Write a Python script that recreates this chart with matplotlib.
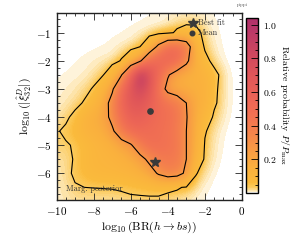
import numpy as np
import matplotlib
matplotlib.use("Agg")
import matplotlib.pyplot as plt
from matplotlib.colors import LinearSegmentedColormap
from matplotlib.ticker import MultipleLocator

plt.rcParams['font.family'] = 'serif'
plt.rcParams['font.serif'] = ['cmr10', 'DejaVu Serif']
plt.rcParams['mathtext.fontset'] = 'cm'
plt.rcParams['axes.formatter.use_mathtext'] = True

# grid centres of the binned marginalised posterior
x_centres = [-10, -9.5, -9, -8.5, -8, -7.5, -7, -6.5, -6, -5.5, -5,
             -4.5, -4, -3.5, -3, -2.5, -2, -1.5, -1, -0.5, 0]
y_centres = [-7.0, -6.5, -6.0, -5.5, -5.0, -4.5, -4.0, -3.5,
             -3.0, -2.5, -2.0, -1.5, -1.0, -0.5, 0.0]

# relative probability P/Pmax, one row per y centre (bottom to top)
post_rows = [
    [0.01, 0.012, 0.015, 0.015, 0.015, 0.015, 0.015, 0.018, 0.02, 0.02, 0.02, 0.02, 0.02, 0.015, 0.01, 0.006, 0.003, 0.001, 0, 0, 0],
    [0.01, 0.015, 0.03, 0.035, 0.036, 0.037, 0.038, 0.042, 0.05, 0.055, 0.06, 0.06, 0.045, 0.04, 0.03, 0.012, 0.005, 0.002, 0, 0, 0],
    [0.012, 0.02, 0.045, 0.07, 0.09, 0.1, 0.1, 0.11, 0.12, 0.15, 0.2, 0.3, 0.36, 0.34, 0.25, 0.04, 0.012, 0.004, 0.001, 0, 0],
    [0.015, 0.02, 0.04, 0.08, 0.1, 0.11, 0.12, 0.14, 0.17, 0.22, 0.32, 0.4, 0.42, 0.4, 0.28, 0.11, 0.025, 0.008, 0.002, 0, 0],
    [0.028, 0.03, 0.04, 0.07, 0.1, 0.12, 0.15, 0.2, 0.26, 0.4, 0.48, 0.48, 0.45, 0.42, 0.28, 0.14, 0.03, 0.01, 0.003, 0.001, 0],
    [0.03, 0.045, 0.08, 0.12, 0.14, 0.17, 0.25, 0.4, 0.5, 0.52, 0.5, 0.48, 0.45, 0.4, 0.28, 0.15, 0.04, 0.012, 0.004, 0.001, 0],
    [0.012, 0.025, 0.05, 0.12, 0.16, 0.2, 0.33, 0.5, 0.6, 0.6, 0.55, 0.5, 0.47, 0.42, 0.29, 0.16, 0.08, 0.025, 0.008, 0.002, 0],
    [0.008, 0.012, 0.02, 0.04, 0.1, 0.18, 0.35, 0.55, 0.68, 0.7, 0.6, 0.5, 0.45, 0.4, 0.28, 0.17, 0.13, 0.045, 0.01, 0.003, 0],
    [0.006, 0.008, 0.012, 0.02, 0.04, 0.12, 0.25, 0.5, 0.72, 0.82, 0.68, 0.42, 0.22, 0.17, 0.16, 0.15, 0.13, 0.05, 0.01, 0.003, 0],
    [0.003, 0.005, 0.006, 0.008, 0.015, 0.03, 0.1, 0.27, 0.6, 1.0, 0.72, 0.5, 0.3, 0.18, 0.15, 0.14, 0.12, 0.06, 0.01, 0.003, 0],
    [0, 0.002, 0.004, 0.006, 0.008, 0.01, 0.01, 0.04, 0.12, 0.25, 0.5, 0.55, 0.55, 0.5, 0.32, 0.15, 0.06, 0.012, 0.004, 0.001, 0],
    [0, 0, 0.001, 0.002, 0.003, 0.004, 0.006, 0.008, 0.012, 0.035, 0.12, 0.33, 0.5, 0.5, 0.4, 0.12, 0.025, 0.008, 0.003, 0.001, 0],
    [0, 0, 0, 0, 0.001, 0.002, 0.003, 0.004, 0.005, 0.006, 0.008, 0.01, 0.02, 0.045, 0.065, 0.06, 0.015, 0.006, 0.002, 0.001, 0],
    [0, 0, 0, 0, 0, 0, 0.001, 0.002, 0.003, 0.004, 0.005, 0.006, 0.008, 0.01, 0.012, 0.012, 0.008, 0.004, 0.002, 0, 0],
    [0, 0, 0, 0, 0, 0, 0, 0, 0, 0, 0.002, 0.003, 0.004, 0.005, 0.005, 0.005, 0.004, 0.002, 0.001, 0, 0],
]

contour_levels = [0.035, 0.28]

best_fit = (-4.69, -5.6)
post_mean = (-4.96, -3.79)

Z = np.array(post_rows)
vmax = 1.04

nodes = [(0.0, '#ffffff'), (0.003, '#fff6e2'), (0.01, '#fee8b4'), (0.02, '#fdd98a'),
         (0.035, '#fcca5a'), (0.06, '#fbbb3c'), (0.15, '#fab03e'), (0.25, '#f89c44'),
         (0.35, '#f5854b'), (0.45, '#f27352'), (0.55, '#ed6656'), (0.7, '#e05659'),
         (0.85, '#cc4560'), (1.0, '#b6346a'), (vmax, '#b0316b')]
cmap = LinearSegmentedColormap.from_list('post', [(v / vmax, c) for v, c in nodes])
cmap.set_under('white')

fig = plt.figure(figsize=(2.96, 2.40), dpi=100)
ax = fig.add_axes([56.5/296, 1-200/240, (242-56.5)/296, (200-13)/240])
cax = fig.add_axes([246/296, 1-193/240, 12/296, 175/240])

dx = 0.25
im = ax.imshow(Z, origin='lower', cmap=cmap, vmin=0, vmax=vmax, aspect='auto',
               interpolation='bicubic',
               extent=[x_centres[0]-dx, x_centres[-1]+dx, y_centres[0]-dx, y_centres[-1]+dx])
ax.contour(x_centres, y_centres, Z, levels=contour_levels, colors='k', linewidths=0.8)

ax.plot(post_mean[0], post_mean[1], 'o', color='#3a3a3a', ms=3.8)
ax.plot(best_fit[0], best_fit[1], '*', color='#3a3a3a', ms=7)

# key in the top right corner
ax.plot(-2.66, -0.64, '*', color='#3a3a3a', ms=7)
ax.plot(-2.7, -1.0, 'o', color='#3a3a3a', ms=3.3)
ax.text(-2.38, -0.64, 'Best fit', fontsize=6, va='center', color='#333333')
ax.text(-2.38, -1.0, 'Mean', fontsize=6, va='center', color='#333333')
ax.text(-9.5, -6.56, 'Marg. posterior', fontsize=6, va='center', color='#333333')

ax.set_xlim(-10, 0)
ax.set_ylim(-6.95, -0.3)
ax.xaxis.set_major_locator(MultipleLocator(2))
ax.xaxis.set_minor_locator(MultipleLocator(0.5))
ax.yaxis.set_major_locator(MultipleLocator(1))
ax.yaxis.set_minor_locator(MultipleLocator(0.25))
ax.tick_params(which='both', direction='in', top=True, right=True, labelsize=8, width=0.6, color='#222222')
ax.tick_params(which='major', length=5)
ax.tick_params(which='minor', length=2.5)
for s in ax.spines.values():
    s.set_linewidth(1.0)
    s.set_color('#222222')

ax.set_xlabel(r'$\log_{10}(\mathrm{BR}(h\to bs))$', fontsize=8.5, labelpad=2)
ax.set_ylabel(r'$\log_{10}(|\hat{\xi}^D_{32}|)$', fontsize=8.5, labelpad=2)

cb = fig.colorbar(im, cax=cax)
cb.set_ticks([0.2, 0.4, 0.6, 0.8, 1.0])
cb.ax.yaxis.set_minor_locator(MultipleLocator(0.05))
cb.ax.tick_params(which='both', direction='in', labelsize=7, width=0.6)
cb.ax.tick_params(which='major', length=5)
cb.ax.tick_params(which='minor', length=2.5)
cb.outline.set_linewidth(1.0)
cb.set_label(r'Relative probability $P/P_{\rm max}$', rotation=270, fontsize=7, labelpad=10)

fig.text(0.80, 0.975, 'pippi', fontsize=3.5, color='#555555')

fig.savefig('out.png', dpi=100)
